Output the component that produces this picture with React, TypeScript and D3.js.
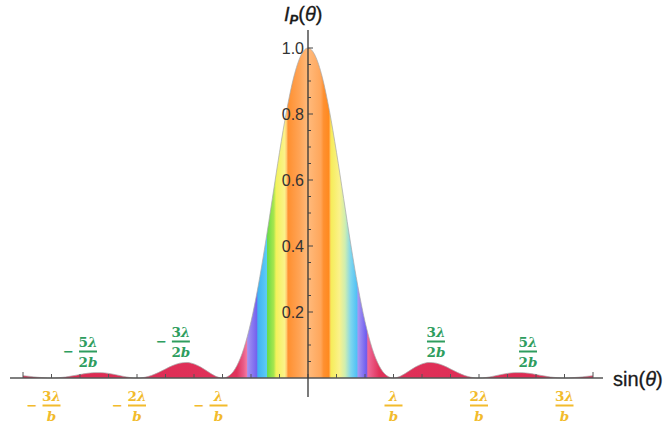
import React from "react";
import * as d3 from "d3";

// ---- data ----
const SIN_THETA = [
  -1, -0.975, -0.95, -0.925, -0.9, -0.875, -0.85, -0.825, -0.8, -0.775,
  -0.75, -0.725, -0.7, -0.675, -0.65, -0.625, -0.6, -0.575, -0.55, -0.525,
  -0.5, -0.475, -0.45, -0.425, -0.4, -0.375, -0.35, -0.325, -0.3, -0.275,
  -0.25, -0.225, -0.2, -0.175, -0.15, -0.125, -0.1, -0.075, -0.05, -0.025,
  0,
  0.025, 0.05, 0.075, 0.1, 0.125, 0.15, 0.175, 0.2, 0.225, 0.25,
  0.275, 0.3, 0.325, 0.35, 0.375, 0.4, 0.425, 0.45, 0.475, 0.5,
  0.525, 0.55, 0.575, 0.6, 0.625, 0.65, 0.675, 0.7, 0.725, 0.75,
  0.775, 0.8, 0.825, 0.85, 0.875, 0.9, 0.925, 0.95, 0.975, 1,
];
const INTENSITY = [
  0.0068, 0.0048, 0.0025, 0.0007, 0, 0.0008, 0.0032, 0.0067, 0.0107, 0.0142,
  0.0162, 0.0162, 0.014, 0.01, 0.0054, 0.0016, 0, 0.0018, 0.0075, 0.0165,
  0.0274, 0.0377, 0.045, 0.0471, 0.0427, 0.0324, 0.0186, 0.0058, 0, 0.0081,
  0.0365, 0.0901, 0.171, 0.2778, 0.4053, 0.5445, 0.6839, 0.8106, 0.9119, 0.9773,
  1,
  0.9773, 0.9119, 0.8106, 0.6839, 0.5445, 0.4053, 0.2778, 0.171, 0.0901, 0.0365,
  0.0081, 0, 0.0058, 0.0186, 0.0324, 0.0427, 0.0471, 0.045, 0.0377, 0.0274,
  0.0165, 0.0075, 0.0018, 0, 0.0016, 0.0054, 0.01, 0.014, 0.0162, 0.0162,
  0.0142, 0.0107, 0.0067, 0.0032, 0.0008, 0, 0.0007, 0.0025, 0.0048, 0.0068,
];
const Y_TICK_VALUES = [0.2, 0.4, 0.6, 0.8, 1.0];
const Y_TICK_LABELS = ["0.2", "0.4", "0.6", "0.8", "1.0"];

// minima labels (yellow)
const MINIMA_POS = [-0.9, -0.6, -0.3, 0.3, 0.6, 0.9];
const MINIMA_NUM = ["3λ", "2λ", "λ", "λ", "2λ", "3λ"];
const MINIMA_DEN = ["b", "b", "b", "b", "b", "b"];
// secondary maxima labels (green)
const MAXIMA_POS = [-0.772, -0.446, 0.449, 0.772];
const MAXIMA_NUM = ["5λ", "3λ", "3λ", "5λ"];
const MAXIMA_DEN = ["2b", "2b", "2b", "2b"];

// colour stripes along sinθ
const COLOR_STOPS: [number, string][] = [
  [-1.0, "#dc2850"],
  [-0.25, "#e0325a"],
  [-0.226, "#ea5c88"],
  [-0.214, "#f27ca4"],
  [-0.212, "#a292f2"],
  [-0.18, "#7462ee"],
  [-0.176, "#40b2f2"],
  [-0.145, "#5ccbf6"],
  [-0.142, "#6adc48"],
  [-0.12, "#a8e64e"],
  [-0.112, "#f2f25a"],
  [-0.082, "#fbf28a"],
  [-0.075, "#ffc870"],
  [-0.07, "#ff9030"],
  [-0.03, "#ffa456"],
  [0, "#ffba7c"],
  [0.045, "#ffa65a"],
  [0.055, "#ff9030"],
  [0.072, "#ff8a20"],
  [0.077, "#ffb050"],
  [0.08, "#f6ec58"],
  [0.11, "#faf28a"],
  [0.13, "#cfeeb0"],
  [0.15, "#7ed6ee"],
  [0.172, "#4fc0f6"],
  [0.175, "#a898f2"],
  [0.205, "#6e5cf0"],
  [0.21, "#ee6a98"],
  [0.25, "#e0325a"],
  [1.0, "#dc2850"],
];

const W = 664;
const H = 427;
const YELLOW = "#f2bb2c";
const GREEN = "#2e9d5e";
const FRAC_FONT = "'DejaVu Serif', serif";

function Fraction({ cx, base, num, den, color, neg }: any) {
  const lineY = base + 4.5;
  return (
    <g fill={color} fontFamily={FRAC_FONT} fontWeight="bold" fontSize={13.5}>
      {neg && (
        <text x={cx - 14} y={lineY + 4.5} textAnchor="end" fontSize={13}>
          −
        </text>
      )}
      <text x={cx} y={base} textAnchor="middle">
        {num.length > 1 ? <tspan>{num.slice(0, -1)}</tspan> : null}
        <tspan fontStyle="italic">λ</tspan>
      </text>
      <line x1={cx - 9} x2={cx + 9} y1={lineY} y2={lineY} stroke={color} strokeWidth={2} />
      <text x={cx} y={base + 20} textAnchor="middle">
        {den.length > 1 ? <tspan>{den.slice(0, -1)}</tspan> : null}
        <tspan fontStyle="italic">b</tspan>
      </text>
    </g>
  );
}

export default function App() {
  const x = d3.scaleLinear().domain([-1, 1]).range([23, 593]);
  const y = d3.scaleLinear().domain([0, 1]).range([378, 48]);

  const pts = SIN_THETA.map((s, i) => [s, INTENSITY[i]] as [number, number]);
  const area = d3
    .area<[number, number]>()
    .x((d) => x(d[0]))
    .y0(y(0))
    .y1((d) => y(d[1]))
    .curve(d3.curveMonotoneX);
  const line = d3
    .line<[number, number]>()
    .x((d) => x(d[0]))
    .y((d) => y(d[1]))
    .curve(d3.curveMonotoneX);

  const xTicks = d3.range(-10, 11).map((k) => k / 10);
  const yMinor = d3.range(1, 21).map((k) => k / 20);

  return (
    <svg
      width={W}
      height={H}
      style={{ position: "absolute", left: 0, top: 0, background: "#fff" }}
    >
      <defs>
        <linearGradient
          id="rainbow"
          gradientUnits="userSpaceOnUse"
          x1={x(-1)}
          x2={x(1)}
          y1={0}
          y2={0}
        >
          {COLOR_STOPS.map(([s, c], i) => (
            <stop key={i} offset={(s + 1) / 2} stopColor={c} />
          ))}
        </linearGradient>
      </defs>

      <path d={area(pts) || ""} fill="url(#rainbow)" />
      <path d={line(pts) || ""} fill="none" stroke="#a8a8a8" strokeOpacity={0.7} strokeWidth={1} />

      {/* x axis */}
      <line x1={10} x2={603} y1={y(0)} y2={y(0)} stroke="#555" strokeWidth={1.5} />
      {xTicks.map((t, i) => (
        <line
          key={i}
          x1={x(t)}
          x2={x(t)}
          y1={y(0)}
          y2={y(0) - (Math.abs(t) === 1 ? 6 : 4)}
          stroke="#555"
          strokeWidth={1}
        />
      ))}
      <text
        x={613}
        y={386}
        fontFamily="'Liberation Sans', Arial, sans-serif"
        fontSize={20}
        fill="#1a1a1a"
        stroke="#1a1a1a"
        strokeWidth={0.3}
      >
        sin(<tspan fontStyle="italic">θ</tspan>)
      </text>

      {/* y axis */}
      <line x1={x(0)} x2={x(0)} y1={30} y2={397} stroke="#333" strokeWidth={1.3} />
      {yMinor.map((t, i) => (
        <line
          key={i}
          x1={x(0)}
          x2={x(0) + (Math.round(t * 20) % 4 === 0 ? 5 : 3)}
          y1={y(t)}
          y2={y(t)}
          stroke="#444"
          strokeWidth={1}
        />
      ))}
      {Y_TICK_VALUES.map((v, i) => (
        <text
          key={i}
          x={x(0) - 4}
          y={y(v) + 6}
          textAnchor="end"
          fontFamily="'Liberation Sans', Arial, sans-serif"
          fontSize={16}
          fill="#333"
        >
          {Y_TICK_LABELS[i]}
        </text>
      ))}
      <text
        x={284}
        y={21}
        fontFamily="'Liberation Sans', Arial, sans-serif"
        fontSize={20}
        fill="#1a1a1a"
        stroke="#1a1a1a"
        strokeWidth={0.3}
      >
        <tspan fontStyle="italic">I</tspan>
        <tspan fontStyle="italic" fontWeight="bold" fontSize={13} dy={3}>P</tspan>
        <tspan dy={-3}>(</tspan>
        <tspan fontStyle="italic">θ</tspan>
        <tspan>)</tspan>
      </text>

      {/* minima labels */}
      {MINIMA_POS.map((s, i) => (
        <Fraction
          key={"m" + i}
          cx={x(s) + (s === -0.3 ? -4 : 0)}
          base={401}
          num={MINIMA_NUM[i]}
          den={MINIMA_DEN[i]}
          color={YELLOW}
          neg={s < 0}
        />
      ))}
      {/* secondary maxima labels */}
      {MAXIMA_POS.map((s, i) => (
        <Fraction
          key={"M" + i}
          cx={x(s)}
          base={Math.abs(s) > 0.6 ? 347 : 337}
          num={MAXIMA_NUM[i]}
          den={MAXIMA_DEN[i]}
          color={GREEN}
          neg={s < 0}
        />
      ))}
    </svg>
  );
}
